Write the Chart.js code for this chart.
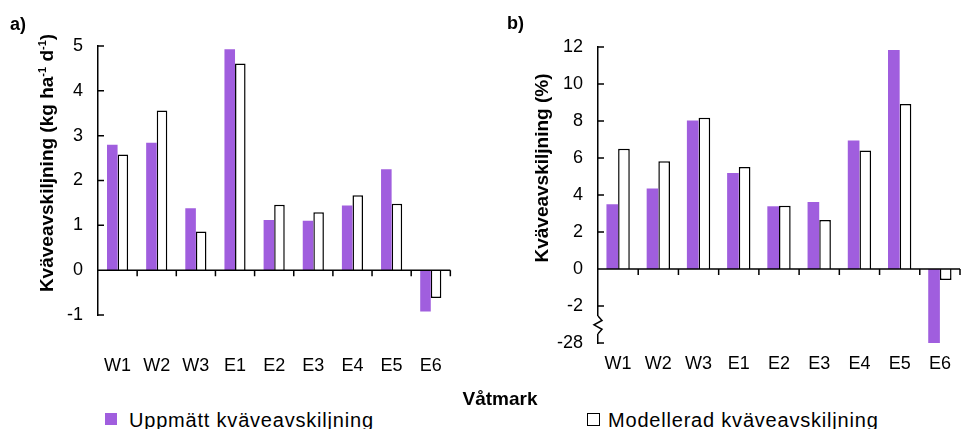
<!DOCTYPE html>
<html>
<head>
<meta charset="utf-8">
<script src="https://cdn.jsdelivr.net/npm/chart.js@4"></script>
<style>
  body { margin: 0; background: #fff; width: 964px; height: 429px; overflow: hidden; position: relative;
         font-family: 'Liberation Sans', Arial, sans-serif; color: #000; }
  canvas { position: absolute; top: 0; }
  .t { position: absolute; white-space: nowrap; line-height: 1; }
  .panel { font-weight: bold; font-size: 18px; }
  .ytitle { font-weight: bold; font-size: 19px; transform: translate(-50%, -50%) rotate(-90deg); }
  .ytitle sup { font-size: 11px; vertical-align: 7px; line-height: 0; }
  .leg { font-size: 20px; letter-spacing: 0.8px; }
  .box { position: absolute; width: 12px; height: 12px; box-sizing: border-box; }
</style>
</head>
<body>
<canvas id="chartA" width="482" height="400" style="left:0"></canvas>
<canvas id="chartB" width="484" height="400" style="left:480px"></canvas>

<div class="t panel" style="left:10px; top:15px">a)</div>
<div class="t panel" style="left:507px; top:14px">b)</div>
<div class="t ytitle" style="left:46px; top:163px">Kväveavskiljning (kg ha<sup>-1</sup> d<sup>-1</sup>)</div>
<div class="t ytitle" style="left:541px; top:168px">Kväveavskiljning (%)</div>
<div class="t" id="xtitle" style="left:500px; top:389px; font-weight:bold; font-size:19px; transform:translateX(-50%)"></div>
<div id="legend"></div>

<script>
const sites = ["W1", "W2", "W3", "E1", "E2", "E3", "E4", "E5", "E6"];
const seriesNames = ["Uppmätt kväveavskiljning", "Modellerad kväveavskiljning"];
const xTitle = "Våtmark";

// a) kg ha-1 d-1
const measuredKg = [2.8, 2.84, 1.38, 4.93, 1.12, 1.1, 1.44, 2.25, -0.92];
const modelledKg = [2.58, 3.56, 0.86, 4.61, 1.46, 1.29, 1.67, 1.48, -0.62];

// b) percent
const measuredPct = [3.5, 4.35, 8.03, 5.19, 3.39, 3.62, 6.95, 11.84, -28];
const modelledPct = [6.5, 5.82, 8.17, 5.52, 3.42, 2.65, 6.41, 8.92, -0.59];

const purple = "#A05EDE";

// broken axis on b): everything between -2 and -28 squeezed into one step
const breakTop = -2, breakBottom = -28, breakShown = -4;
function squeeze(v) {
  if (v >= breakTop) return v;
  return breakTop + (v - breakTop) * (breakShown - breakTop) / (breakBottom - breakTop);
}

Chart.defaults.font.family = "'Liberation Sans', Arial, sans-serif";
Chart.defaults.color = "#000";

const axisMarks = {
  id: "axisMarks",
  afterDatasetsDraw(chart, args, opts) {
    const { ctx, chartArea: a, scales: { x, y } } = chart;
    const y0 = y.getPixelForValue(0);
    ctx.save();
    ctx.strokeStyle = "#000";
    ctx.lineWidth = 1.5;
    ctx.beginPath();
    ctx.moveTo(a.left, y0);
    ctx.lineTo(a.right, y0);
    const n = x.ticks.length;
    for (let i = 0; i < n; i++) {
      const px = i < n - 1 ? (x.getPixelForValue(i) + x.getPixelForValue(i + 1)) / 2 : a.right;
      ctx.moveTo(px, y0);
      ctx.lineTo(px, y0 + 6);
    }
    y.ticks.forEach(t => {
      if (t.value === 0) return;
      const py = y.getPixelForValue(t.value);
      ctx.moveTo(a.left, py);
      ctx.lineTo(a.left + 6, py);
    });
    ctx.stroke();

    if (opts.zigzag) {
      const top = y.getPixelForValue(breakTop);
      const bot = y.getPixelForValue(breakShown);
      const h = bot - top;
      const y1 = top + h * 0.27, y2 = top + h * 0.75;
      ctx.fillStyle = "#fff";
      ctx.fillRect(a.left - 3, y1, 6, y2 - y1);
      const step = (y2 - y1) / 4;
      ctx.beginPath();
      ctx.moveTo(a.left, y1);
      ctx.lineTo(a.left + 4, y1 + step);
      ctx.lineTo(a.left - 4, y1 + step * 2);
      ctx.lineTo(a.left + 4, y1 + step * 3);
      ctx.lineTo(a.left, y2);
      ctx.stroke();
    }
    ctx.restore();
  }
};

function makeChart(id, measured, modelled, opts) {
  return new Chart(id, {
    type: "bar",
    data: {
      labels: sites,
      datasets: [
        { label: seriesNames[0], data: measured, backgroundColor: purple, borderWidth: 0 },
        { label: seriesNames[1], data: modelled, backgroundColor: "#fff", borderColor: "#000", borderWidth: 1.5 }
      ]
    },
    options: {
      responsive: false,
      animation: false,
      devicePixelRatio: 1,
      barPercentage: 1,
      categoryPercentage: opts.catPct,
      layout: { padding: { left: 0, top: opts.top, right: 4, bottom: 0 } },
      plugins: { legend: { display: false }, tooltip: { enabled: false }, axisMarks: { zigzag: opts.zigzag } },
      scales: {
        x: {
          grid: { display: false, drawTicks: false },
          border: { display: false },
          ticks: { font: { size: 18 }, padding: opts.labelPad, autoSkip: false, maxRotation: 0 },
          afterFit(s) { s.height = opts.xHeight; }
        },
        y: {
          min: opts.min, max: opts.max,
          grid: { display: false, drawTicks: false },
          border: { display: true, color: "#000", width: 1.5 },
          ticks: { stepSize: opts.step, font: { size: 18 }, padding: 15, callback: opts.tickText },
          afterFit(s) { s.width = opts.yWidth; }
        }
      }
    },
    plugins: [axisMarks]
  });
}

makeChart("chartA", measuredKg, modelledKg, {
  catPct: 0.54, top: 46, xHeight: 85, labelPad: 40, yWidth: 98,
  min: -1, max: 5, step: 1, zigzag: false, tickText: v => v
});

makeChart("chartB", measuredPct.map(squeeze), modelledPct.map(squeeze), {
  catPct: 0.58, top: 47, xHeight: 57, labelPad: 10, yWidth: 118,
  min: breakShown, max: 12, step: 2, zigzag: true,
  tickText: v => (v === breakShown ? String(breakBottom) : v)
});

document.getElementById("xtitle").textContent = xTitle;

// legend: first series under panel a), second under panel b)
const legend = document.getElementById("legend");
const legendPos = [{ box: 105, text: 129 }, { box: 587, text: 608 }];
seriesNames.forEach((name, i) => {
  const b = document.createElement("div");
  b.className = "box";
  b.style.left = legendPos[i].box + "px";
  b.style.top = "413px";
  if (i === 0) b.style.background = purple;
  else { b.style.background = "#fff"; b.style.border = "1.5px solid #000"; b.style.width = "13px"; b.style.height = "13px"; }
  legend.appendChild(b);
  const t = document.createElement("div");
  t.className = "t leg";
  t.style.left = legendPos[i].text + "px";
  t.style.top = "410px";
  t.textContent = name;
  legend.appendChild(t);
});
</script>
</body>
</html>
